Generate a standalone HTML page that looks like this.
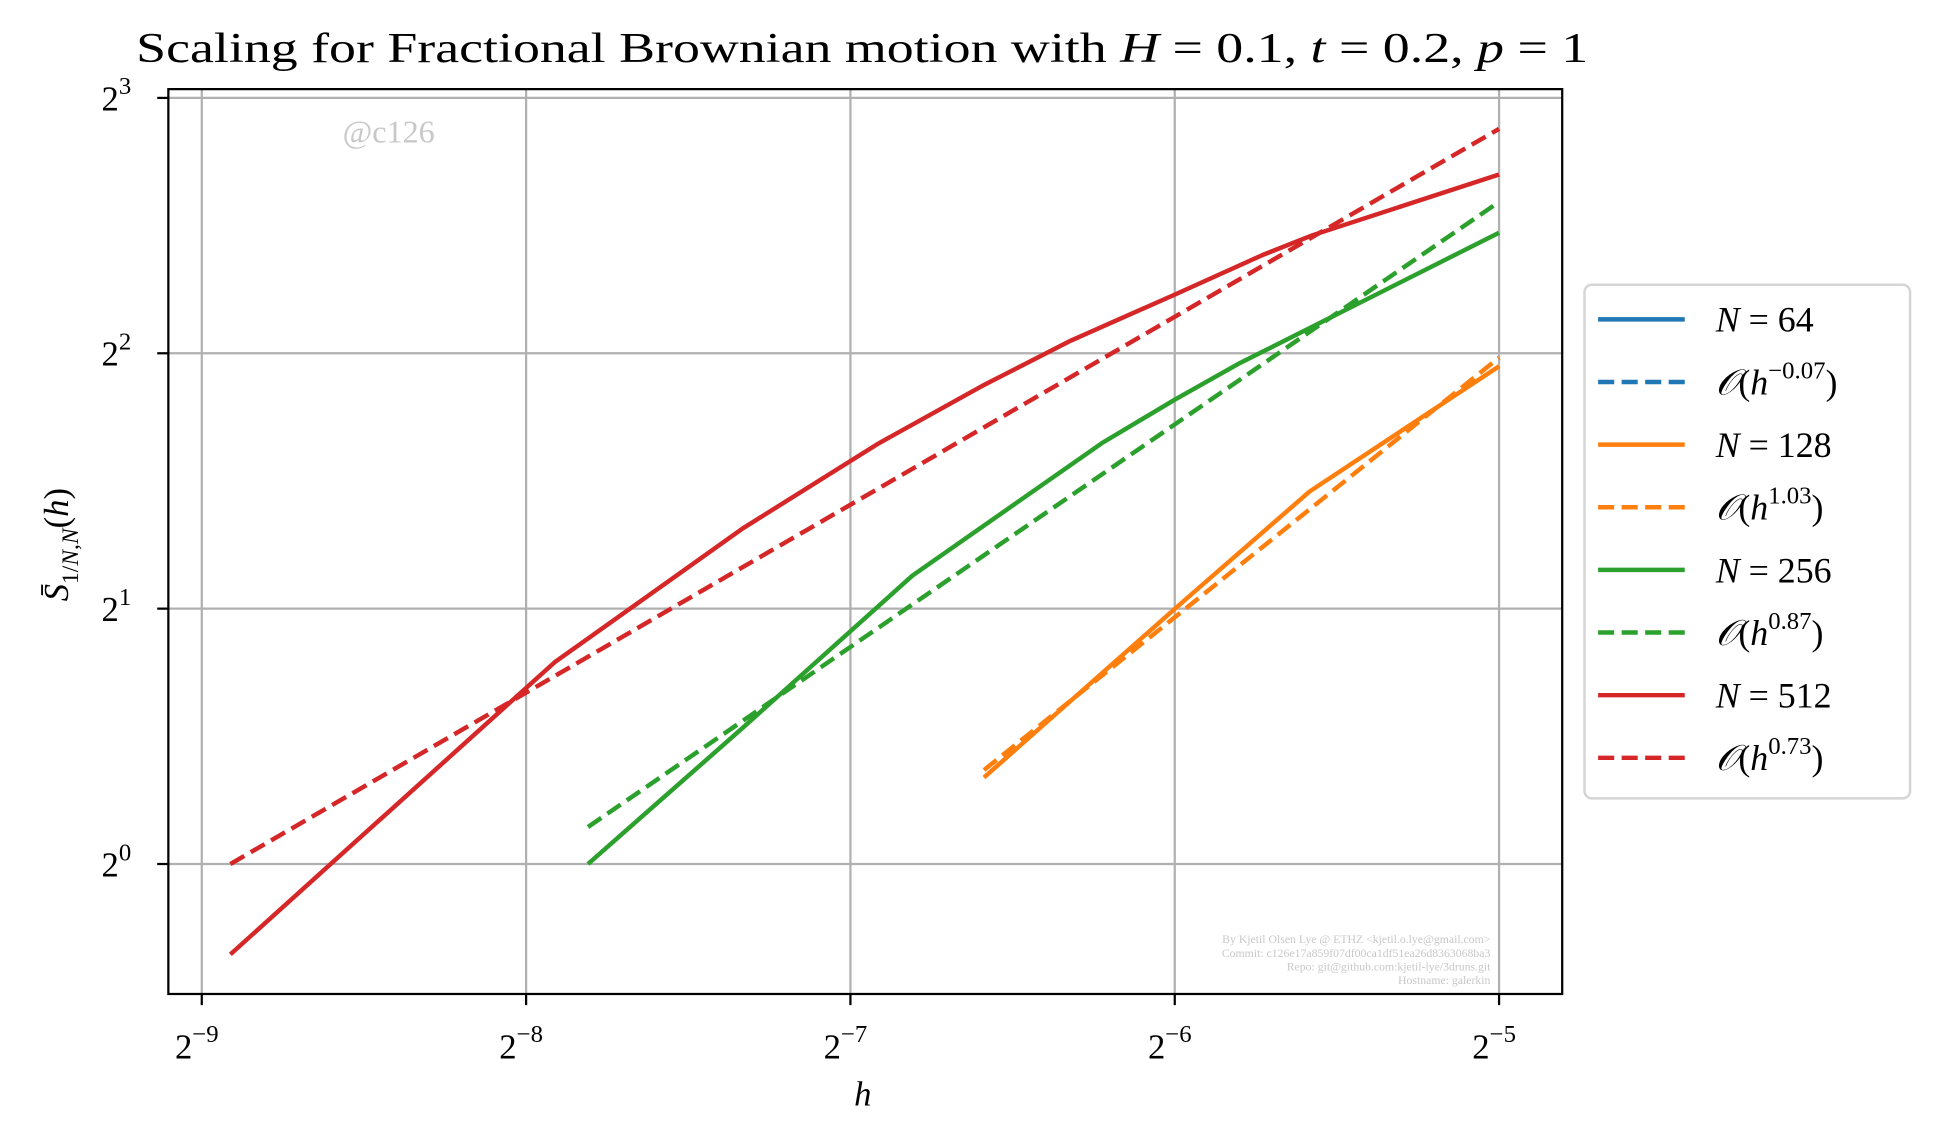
<!DOCTYPE html>
<html><head><meta charset="utf-8"><style>
html,body{margin:0;padding:0;background:#fff;}
svg{display:block;}
text{font-family:"Liberation Serif","DejaVu Serif",serif;}
</style></head><body>
<svg id="chart" width="1941" height="1145" viewBox="0 0 1568 925" preserveAspectRatio="none" xmlns="http://www.w3.org/2000/svg">
<rect width="1568" height="925" fill="#fff"/>
<g id="grid"></g>
<g id="series"></g>
<rect x="136" y="72" width="1126" height="731" fill="none" stroke="#000" stroke-width="1.8"/>
<g id="ticks"></g>
<text x="110" y="50" font-size="34" textLength="1173" lengthAdjust="spacingAndGlyphs">Scaling for Fractional Brownian motion with <tspan font-style="italic">H</tspan> = 0.1, <tspan font-style="italic">t</tspan> = 0.2, <tspan font-style="italic">p</tspan> = 1</text>
<text x="314" y="115" font-size="26" fill="#c8c8c8" text-anchor="middle">@c126</text>
<g font-size="9.5" fill="#c8c8c8" text-anchor="end">
<text x="1204" y="762">By Kjetil Olsen Lye @ ETHZ &lt;kjetil.o.lye@gmail.com&gt;</text>
<text x="1204" y="773">Commit: c126e17a859f07df00ca1df51ea26d8363068ba3</text>
<text x="1204" y="784">Repo: git@github.com:kjetil-lye/3druns.git</text>
<text x="1204" y="795">Hostname: galerkin</text>
</g>
<text x="697" y="893" font-size="28" font-style="italic" text-anchor="middle">h</text>
<text transform="translate(55,440) rotate(-90)" font-size="28" text-anchor="middle"><tspan font-style="italic">S̄</tspan><tspan font-size="19" dy="8">1/<tspan font-style="italic">N</tspan>,<tspan font-style="italic">N</tspan></tspan><tspan dy="-8">(<tspan font-style="italic">h</tspan>)</tspan></text>
<g id="legend"></g>
</svg>
<script>
const xTicks = [-9, -8, -7, -6, -5];
const yTicks = [0, 1, 2, 3];
const n128X = [-6.588, -6, -5.584, -5];
const n128Y = [0.339, 0.999, 1.459, 1.949];
const fit128X = [-6.588, -5];
const fit128Y = [0.368, 1.983];
const n256X = [-7.809, -7.332, -6.809, -6.225, -6, -5.805, -5];
const n256Y = [0, 0.533, 1.129, 1.648, 1.818, 1.958, 2.472];
const fit256X = [-7.809, -5];
const fit256Y = [0.145, 2.593];
const n512X = [-8.912, -7.912, -7.332, -6.912, -6.588, -6.32, -6, -5.729, -5.576, -5];
const n512Y = [-0.354, 0.790, 1.314, 1.648, 1.876, 2.05, 2.23, 2.385, 2.462, 2.70];
const fit512X = [-8.912, -5];
const fit512Y = [0, 2.879];
const legendLabels = ["N = 64", "O(h^-0.07)", "N = 128", "O(h^1.03)", "N = 256", "O(h^0.87)", "N = 512", "O(h^0.73)"];

const NS = "http://www.w3.org/2000/svg";
function X(v){ return 163 + (v + 9) * 262; }
function Y(v){ return 698 - v * 206.3; }
function mk(tag, attrs, parent){
  const e = document.createElementNS(NS, tag);
  for (const k in attrs) e.setAttribute(k, attrs[k]);
  parent.appendChild(e); return e;
}
const grid = document.getElementById('grid');
const ticks = document.getElementById('ticks');
xTicks.forEach(t => {
  const g = mk('line', {x1:X(t), x2:X(t), y1:72, y2:803, stroke:'#b0b0b0', 'stroke-width':1.8}, grid);
  
  
  const tk = mk('line', {x1:X(t), x2:X(t), y1:803, y2:812, stroke:'#000', 'stroke-width':1.8}, ticks);
  
  
  const tx = mk('text', {x:X(t)-4, y:855, 'font-size':28, 'text-anchor':'middle'}, ticks);
  
  
  tx.innerHTML = '2<tspan font-size="20" dy="-13">−' + Math.abs(t) + '</tspan>';
});
yTicks.forEach(t => {
  const g = mk('line', {x1:136, x2:1262, y1:Y(t), y2:Y(t), stroke:'#b0b0b0', 'stroke-width':1.8}, grid);
  
  
  const tk = mk('line', {x1:127, x2:136, y1:Y(t), y2:Y(t), stroke:'#000', 'stroke-width':1.8}, ticks);
  
  
  const tx = mk('text', {x:94, y:Y(t)+10, 'font-size':28, 'text-anchor':'middle'}, ticks);
  
  
  tx.innerHTML = '2<tspan font-size="20" dy="-13">' + t + '</tspan>';
});
const series = document.getElementById('series');
function drawLine(xs, ys, color, dashed, name){
  const pts = xs.map((x,i) => X(x).toFixed(1) + ',' + Y(ys[i]).toFixed(1)).join(' ');
  const p = mk('polyline', {points:pts, fill:'none', stroke:color, 'stroke-width':3.6, 'stroke-linejoin':'round'}, series);
  if (dashed) p.setAttribute('stroke-dasharray', '13 6');
  
  
}
drawLine(n128X, n128Y, '#ff7f0e', false, 'line-n128');
drawLine(fit128X, fit128Y, '#ff7f0e', true, 'fit-n128');
drawLine(n256X, n256Y, '#2ca02c', false, 'line-n256');
drawLine(fit256X, fit256Y, '#2ca02c', true, 'fit-n256');
drawLine(n512X, n512Y, '#d62728', false, 'line-n512');
drawLine(fit512X, fit512Y, '#d62728', true, 'fit-n512');

const legend = document.getElementById('legend');
const lb = mk('rect', {x:1280, y:230, width:263, height:415, rx:6, fill:'#fff', stroke:'#d5d5d5', 'stroke-width':2}, legend);


const colors = ['#1f77b4','#ff7f0e','#2ca02c','#d62728'];
legendLabels.forEach((lab, i) => {
  const y = 258 + i * 50.6;
  const c = colors[Math.floor(i/2)];
  const dashed = i % 2 === 1;
  const l = mk('line', {x1:1291, x2:1361, y1:y, y2:y, stroke:c, 'stroke-width':3.6}, legend);
  if (dashed) l.setAttribute('stroke-dasharray', '13 6');
  
  
  const t = mk('text', {x:1386, y:y+10, 'font-size':29}, legend);
  
  
  if (!dashed) {
    const parts = lab.split(' = ');
    t.innerHTML = '<tspan font-style="italic">N</tspan> = ' + parts[1];
  } else {
    const exp = lab.slice(4, -1).replace('-', '−');
    t.innerHTML = '<tspan font-style="italic">𝒪</tspan>(<tspan font-style="italic">h</tspan><tspan font-size="20" dy="-13">' + exp + '</tspan><tspan dy="13">)</tspan>';
  }
});
</script>
</body></html>
